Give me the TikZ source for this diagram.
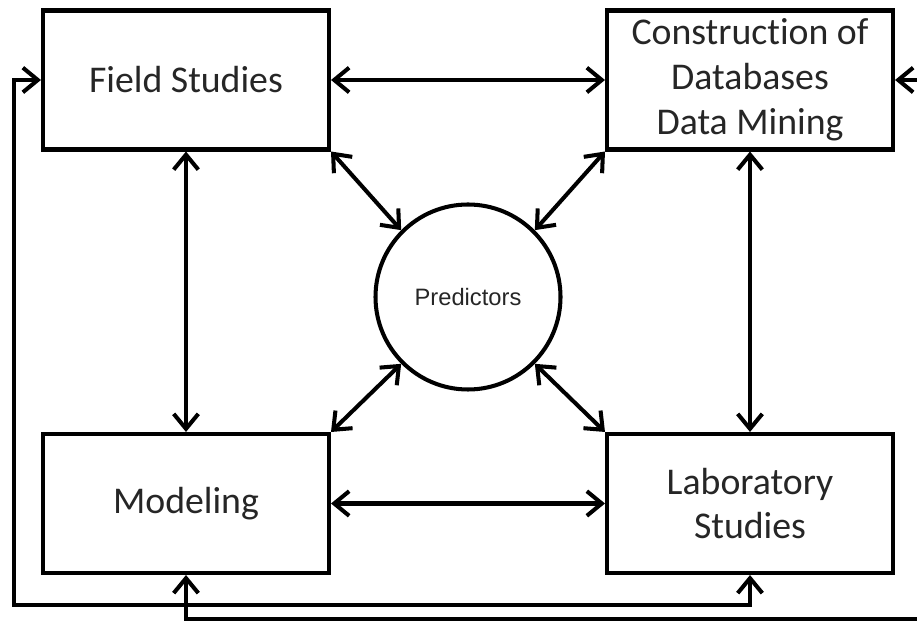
\documentclass[tikz,border=0pt]{standalone}
\usepackage{fontspec}
\setmainfont{Carlito}[Ligatures=NoCommon]
\newfontfamily\arialfont{Liberation Sans}
\usepackage{tikz}
\usetikzlibrary{arrows.meta, positioning, calc}
\colorlet{boxtext}{black!85}

\begin{document}
\begin{tikzpicture}[
    >={Straight Barb[length=8.5pt, width=14pt]},
    box/.style={draw=black, line width=2.3pt, minimum width=5.72cm, minimum height=2.78cm,
      align=center, text=boxtext, font=\fontsize{21.5}{25.5}\selectfont},
    hub/.style={draw=black, circle, line width=2.3pt, minimum size=3.7cm,
      text=boxtext, font=\arialfont\fontsize{13.5}{16}\selectfont},
    link/.style={line width=2.3pt, <->}
  ]
    \useasboundingbox (0,0) rectangle (18.34,12.42);
    \clip (0,0) rectangle (18.34,12.42);
    \node[box] (field) at (3.72,10.82) {Field Studies};
    \node[box] (dbase) at (15.0,10.82) {Construction of\\Databases\\Data Mining};
    \node[box] (model) at (3.72,2.35) {Modeling};
    \node[box] (lab) at (15.0,2.35) {Laboratory\\Studies};
    \node[hub] (pred) at (9.36,6.48) {Predictors};
    % links round the square
    \draw[link] (field) -- (dbase);
    \draw[link] (model) -- (lab);
    \draw[link] (field) -- (model);
    \draw[link] (dbase) -- (lab);
    % links to the centre
    \draw[link] (field.south east) -- (pred.135);
    \draw[link] (dbase.south west) -- (pred.45);
    \draw[link] (model.north east) -- (pred.225);
    \draw[link] (lab.north west) -- (pred.315);
    % feedback loops along the edges
    \coordinate (loopl) at (0.28,0.32);
    \coordinate (loopr) at (18.6,0.04);
    \draw[link] (field.west) -| (loopl) -| (lab.south);
    \draw[link] (model.south) |- (loopr) |- (dbase.east);
  \end{tikzpicture}
\end{document}
